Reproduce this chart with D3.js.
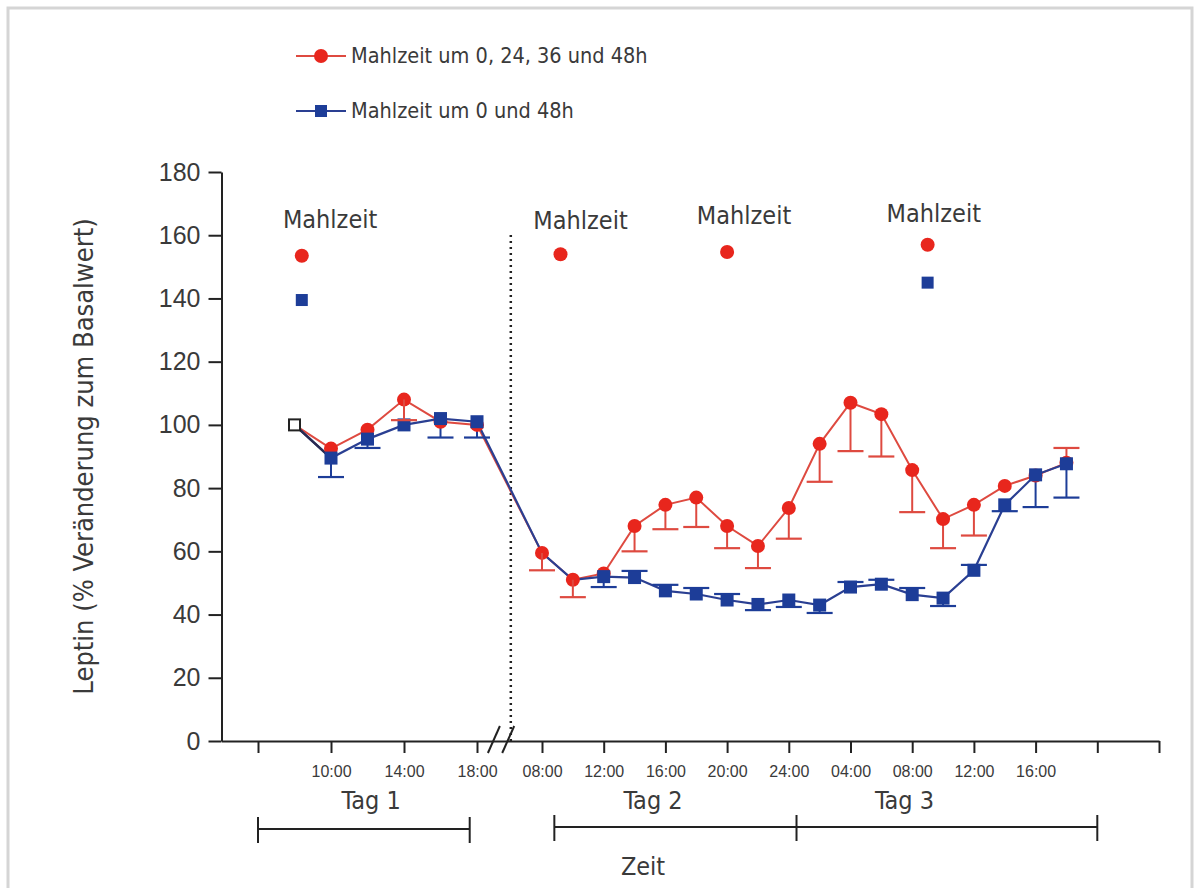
<!DOCTYPE html>
<html><head><meta charset="utf-8">
<script src="https://cdn.jsdelivr.net/npm/d3@7"></script>
<style>
html,body{margin:0;padding:0;background:#fff;}
svg{display:block;}
</style></head>
<body>
<svg id="chart" width="1200" height="888"></svg>
<script>
// ---- data (time = hours from day 1, 00:00) ----
const times = [8,10,12,14,16,18, 32,34,36,38,40,42,44,46,48,50,52,54,56,58,60,62,64,66];
const redMean = [100,92.5,98.5,108,101,100, 59.5,51,53,68,74.7,77,68,61.7,73.7,94,107,103.4,85.7,70.2,74.7,80.7,84,88];
const redErrDown = [0,0,0,6.5,0,0, 5.5,5.5,0,8,7.7,9.3,7,7,9.7,12,15.3,13.4,13.3,9.2,9.7,0,0,0];
const redErrUp = [0,0,0,0,0,0, 0,0,0,0,0,0,0,0,0,0,0,0,0,0,0,0,0,4.7];
const blueMean = [100,89.5,95.5,100,102,101, 59.5,51,52,51.7,47.5,46.5,44.6,43.2,44.6,43,48.7,49.6,46.3,45.2,54,74.7,84.2,87.7];
const blueErrDown = [0,6,2.8,0,6,5, 0,0,3.3,0,0,0,0,1.8,2.2,2.5,0,0,0,2.5,0,2,10.2,10.7];
const blueErrUp = [0,0,0,0,0,0, 0,0,0,2.1,1.9,1.9,1.9,0,0,0,1.6,1.4,2.1,0,1.7,0,0,0];
const redOnTop = [14,32,34];

const mealTimes = [8.4,33.2,44,57];
const mealRed = [153.5,154,154.7,157];
const mealBlueTimes = [8.4,57];
const mealBlue = [139.5,145];
const mealLabelTimes = [9.95,34.5,45.1,57.4];
const mealLabelLevels = [162.3,162,163.6,164.2];

const yTicks = [0,20,40,60,80,100,120,140,160,180];
const xTickHours = [6,10,14,18,32,36,40,44,48,52,56,60,64,68,72];
const xTickLabels = ["","10:00","14:00","18:00","08:00","12:00","16:00","20:00","24:00","04:00","08:00","12:00","16:00","",""];

const dayLabels = ["Tag 1","Tag 2","Tag 3"];
const dayLabelHours = [12.2,39.2,55.5];
const day1Range = [6,17.6];
const day23Range = [32.8,48.5,68];
const zeitHour = 38.55;

const legendLabels = ["Mahlzeit um 0, 24, 36 und 48h","Mahlzeit um 0 und 48h"];

// ---- styling ----
const RED = "#e8261d", RED_LINE = "#de4a40";
const BLUE = "#1d3d98", BLUE_LINE = "#2a3f92";
const TXT = "#3a3a3a";
const COND = "'DejaVu Sans Condensed','DejaVu Sans',sans-serif";
const ARIAL = "'Liberation Sans',Arial,sans-serif";

const svg = d3.select("#chart");
svg.append("rect").attr("x",8).attr("y",8).attr("width",1184).attr("height",900)
  .attr("fill","#fff").attr("stroke","#d5d5d5").attr("stroke-width",3);

const x = d3.scaleLinear().domain([4,18,32,72]).range([221.5,477,542,1159]);
const y = d3.scaleLinear().domain([0,180]).range([741,172]);

// axes
const gy = svg.append("g").attr("transform",`translate(${x(4)},0)`)
  .call(d3.axisLeft(y).tickValues(yTicks).tickSize(13).tickPadding(8).tickSizeOuter(0));
gy.selectAll("text").attr("font-family",ARIAL).attr("font-size",25).attr("fill",TXT);
gy.selectAll("line,path").attr("stroke","#222").attr("stroke-width",2);

const gx = svg.append("g").attr("transform",`translate(0,${y(0)})`)
  .call(d3.axisBottom(x).tickValues(xTickHours).tickFormat((d,i)=>xTickLabels[i]).tickSize(12).tickPadding(13).tickSizeOuter(0));
gx.selectAll("text").attr("font-family",ARIAL).attr("font-size",16).attr("fill",TXT);
gx.selectAll("line,path").attr("stroke","#222").attr("stroke-width",2);

// axis break marks
const bx1 = x(18) + (x(32)-x(18))*0.26, bx2 = x(18) + (x(32)-x(18))*0.48;
[bx1,bx2].forEach(bx=>{
  svg.append("line").attr("x1",bx-6).attr("y1",y(0)+12).attr("x2",bx+6).attr("y2",y(0)-15)
    .attr("stroke","#222").attr("stroke-width",2);
});

// dotted separator
const sepX = x(18) + (x(32)-x(18))*0.52;
svg.append("line").attr("x1",sepX).attr("x2",sepX).attr("y1",y(0)).attr("y2",y(161))
  .attr("stroke","#222").attr("stroke-width",2.5).attr("stroke-dasharray","2,4");

// y title
svg.append("text").attr("transform",`translate(93,${y(90)}) rotate(-90)`)
  .attr("text-anchor","middle").attr("font-family",COND).attr("font-size",27)
  .attr("fill",TXT).text("Leptin (% Veränderung zum Basalwert)");

// day labels & brackets
dayLabels.forEach((t,i)=>{
  svg.append("text").attr("x",x(dayLabelHours[i])).attr("y",809).attr("text-anchor","middle")
    .attr("font-family",COND).attr("font-size",25).attr("fill",TXT).text(t);
});
function bracket(hours, yy){
  svg.append("line").attr("x1",x(hours[0])).attr("x2",x(hours[hours.length-1])).attr("y1",yy).attr("y2",yy)
    .attr("stroke","#222").attr("stroke-width",2);
  hours.forEach(h=>svg.append("line").attr("x1",x(h)).attr("x2",x(h)).attr("y1",yy-12).attr("y2",yy+14)
    .attr("stroke","#222").attr("stroke-width",2));
}
bracket(day1Range,829);
bracket(day23Range,827);
svg.append("text").attr("x",x(zeitHour)).attr("y",875).attr("text-anchor","middle")
  .attr("font-family",COND).attr("font-size",25).attr("fill",TXT).text("Zeit");

// meal annotations
mealLabelTimes.forEach((h,i)=>{
  svg.append("text").attr("x",x(h)).attr("y",y(mealLabelLevels[i])).attr("text-anchor","middle")
    .attr("font-family",COND).attr("font-size",25).attr("fill",TXT).text("Mahlzeit");
});
mealTimes.forEach((h,i)=>svg.append("circle").attr("cx",x(h)).attr("cy",y(mealRed[i])).attr("r",7).attr("fill",RED));
mealBlueTimes.forEach((h,i)=>svg.append("rect").attr("x",x(h)-6).attr("y",y(mealBlue[i])-6).attr("width",12).attr("height",12).attr("fill",BLUE));

// series
const red = times.map((t,i)=>({t,v:redMean[i],dn:redErrDown[i],up:redErrUp[i]}));
const blue = times.map((t,i)=>({t,v:blueMean[i],dn:blueErrDown[i],up:blueErrUp[i]}));
const line = d3.line().x(d=>x(d.t)).y(d=>y(d.v));

svg.append("path").datum(red).attr("d",line).attr("fill","none").attr("stroke",RED_LINE).attr("stroke-width",2);
svg.append("path").datum(blue).attr("d",line).attr("fill","none").attr("stroke",BLUE_LINE).attr("stroke-width",2.2);
svg.append("path").datum(blue.slice(0,2)).attr("d",line).attr("fill","none").attr("stroke","#2a2a50").attr("stroke-width",2.4);

function errBars(g, data, color){
  data.forEach(d=>{
    if(d.dn>0){
      g.append("line").attr("x1",x(d.t)).attr("x2",x(d.t)).attr("y1",y(d.v)).attr("y2",y(d.v-d.dn)).attr("stroke",color).attr("stroke-width",2);
      g.append("line").attr("x1",x(d.t)-13).attr("x2",x(d.t)+13).attr("y1",y(d.v-d.dn)).attr("y2",y(d.v-d.dn)).attr("stroke",color).attr("stroke-width",2.2);
    }
    if(d.up>0){
      g.append("line").attr("x1",x(d.t)).attr("x2",x(d.t)).attr("y1",y(d.v)).attr("y2",y(d.v+d.up)).attr("stroke",color).attr("stroke-width",2);
      g.append("line").attr("x1",x(d.t)-13).attr("x2",x(d.t)+13).attr("y1",y(d.v+d.up)).attr("y2",y(d.v+d.up)).attr("stroke",color).attr("stroke-width",2.2);
    }
  });
}
function redMarks(g, data){
  g.selectAll("circle.r").data(data).join("circle").attr("class","r")
    .attr("cx",d=>x(d.t)).attr("cy",d=>y(d.v)).attr("r",7).attr("fill",RED);
}
function blueMarks(g, data){
  g.selectAll("rect.b").data(data).join("rect").attr("class","b")
    .attr("x",d=>x(d.t)-6.5).attr("y",d=>y(d.v)-6.5).attr("width",13).attr("height",13).attr("fill",BLUE);
}
const body = red.slice(1), bodyB = blue.slice(1);
const gBlueErr = svg.append("g"); errBars(gBlueErr, bodyB, BLUE);
const gRedErr = svg.append("g"); errBars(gRedErr, body.filter(d=>!redOnTop.includes(d.t)), RED_LINE);
const gRed = svg.append("g"); redMarks(gRed, body.filter(d=>!redOnTop.includes(d.t)));
const gBlue = svg.append("g"); blueMarks(gBlue, bodyB.filter(d=>!redOnTop.includes(d.t) || d.t===14));
const gTop = svg.append("g");
const topRed = body.filter(d=>redOnTop.includes(d.t));
redMarks(gTop, topRed); errBars(gTop, topRed, RED_LINE);

// baseline open square
svg.append("rect").attr("x",x(times[0])-5.5).attr("y",y(redMean[0])-5.5).attr("width",11).attr("height",11)
  .attr("fill","#fff").attr("stroke","#222").attr("stroke-width",2);

// legend
const lg = [{c:RED,lc:RED_LINE,shape:"c",yy:56},{c:BLUE,lc:BLUE_LINE,shape:"s",yy:111}];
lg.forEach((d,i)=>{
  svg.append("line").attr("x1",296).attr("x2",346).attr("y1",d.yy).attr("y2",d.yy).attr("stroke",d.lc).attr("stroke-width",2);
  if(d.shape==="c") svg.append("circle").attr("cx",321).attr("cy",d.yy).attr("r",7).attr("fill",d.c);
  else svg.append("rect").attr("x",315).attr("y",d.yy-6).attr("width",12).attr("height",12).attr("fill",d.c);
  svg.append("text").attr("x",351).attr("y",d.yy+7).attr("font-family",COND).attr("font-size",21.5)
    .attr("fill",TXT).text(legendLabels[i]);
});
</script>
</body></html>
